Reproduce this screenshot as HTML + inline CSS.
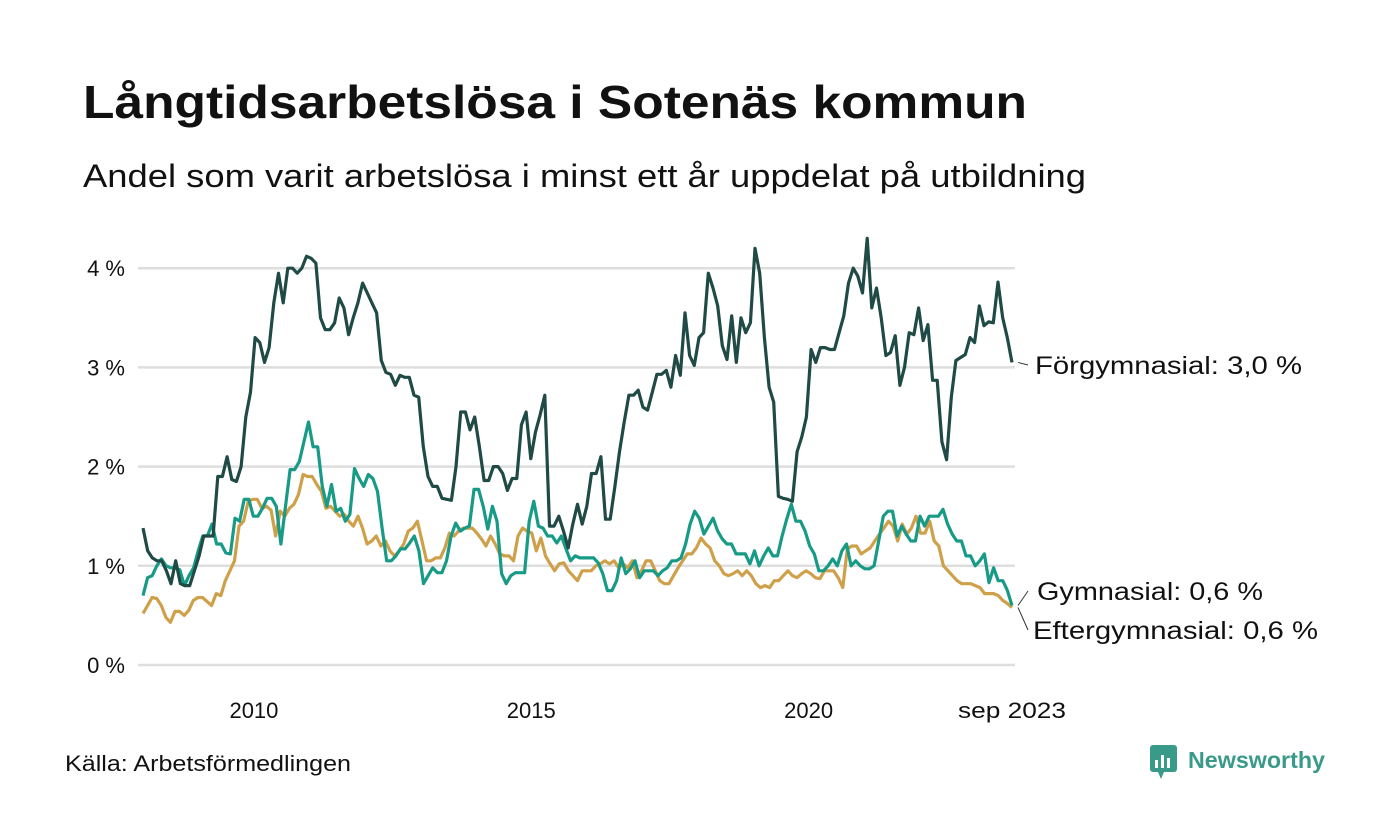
<!DOCTYPE html>
<html><head><meta charset="utf-8">
<style>
html,body{margin:0;padding:0;background:#fff;}
svg{display:block;font-family:"Liberation Sans",sans-serif;}
</style></head>
<body>
<svg width="1400" height="840" viewBox="0 0 1400 840">
<text x="83" y="118" font-size="46" font-weight="bold" fill="#111" textLength="944" lengthAdjust="spacingAndGlyphs">Långtidsarbetslösa i Sotenäs kommun</text>
<text x="83" y="187" font-size="32" fill="#111" textLength="1003" lengthAdjust="spacingAndGlyphs">Andel som varit arbetslösa i minst ett år uppdelat på utbildning</text>
<g id="grid"></g>
<g id="xaxis"></g>
<g id="lines"></g>
<g id="labels"></g>
<text x="65" y="771" font-size="22" fill="#111" textLength="286" lengthAdjust="spacingAndGlyphs">Källa: Arbetsförmedlingen</text>
<g>
<rect x="1150" y="745" width="27" height="27" rx="3" fill="#3a9a8a"/>
<polygon points="1158,772 1164,772 1161,779" fill="#3a9a8a"/>
<rect x="1155" y="760" width="3" height="8" fill="#fff"/><rect x="1161" y="755" width="3" height="13" fill="#fff"/><rect x="1167" y="758" width="3" height="10" fill="#fff"/>
<text x="1188" y="768" font-size="23" font-weight="bold" fill="#3a9a8a" textLength="137" lengthAdjust="spacingAndGlyphs">Newsworthy</text>
</g>
</svg>
<script>
const yTicks=[0,1,2,3,4];
const yTickLabels=["0 %","1 %","2 %","3 %","4 %"];
const xTickYears=[2010,2015,2020,2023.667];
const xTickLabels=["2010","2015","2020","sep 2023"];
const seriesNames=["Förgymnasial","Gymnasial","Eftergymnasial"];
const endLabels=["Förgymnasial: 3,0 %","Gymnasial: 0,6 %","Eftergymnasial: 0,6 %"];
const forgymnasial=[1.38,1.15,1.08,1.05,1.05,0.95,0.82,1.05,0.82,0.8,0.8,0.95,1.1,1.3,1.3,1.3,1.9,1.9,2.1,1.87,1.85,2.0,2.5,2.75,3.3,3.25,3.05,3.2,3.65,3.95,3.65,4.0,4.0,3.95,4.0,4.12,4.1,4.05,3.5,3.38,3.38,3.45,3.7,3.6,3.33,3.5,3.65,3.85,3.75,3.65,3.55,3.07,2.95,2.93,2.82,2.92,2.9,2.9,2.72,2.7,2.2,1.9,1.8,1.8,1.68,1.67,1.66,2.0,2.55,2.55,2.37,2.5,2.2,1.86,1.86,2.0,2.0,1.93,1.76,1.88,1.88,2.42,2.55,2.08,2.35,2.52,2.72,1.4,1.4,1.5,1.35,1.18,1.42,1.62,1.42,1.6,1.93,1.93,2.1,1.47,1.47,1.8,2.15,2.45,2.72,2.72,2.77,2.6,2.57,2.75,2.93,2.93,2.97,2.8,3.12,2.92,3.55,3.12,3.02,3.3,3.35,3.95,3.8,3.62,3.22,3.08,3.52,3.05,3.5,3.35,3.45,4.2,3.95,3.3,2.8,2.65,1.7,1.68,1.67,1.65,2.15,2.3,2.5,3.18,3.05,3.2,3.2,3.18,3.18,3.35,3.52,3.85,4.0,3.92,3.75,4.3,3.6,3.8,3.5,3.12,3.15,3.32,2.82,3.0,3.35,3.33,3.6,3.27,3.43,2.87,2.87,2.25,2.07,2.7,3.07,3.1,3.13,3.3,3.25,3.62,3.42,3.46,3.45,3.86,3.5,3.3,3.05];
const gymnasial=[0.7,0.88,0.9,1.0,1.07,1.0,0.98,0.98,0.96,0.8,0.9,0.98,1.15,1.3,1.3,1.42,1.22,1.22,1.13,1.12,1.48,1.45,1.67,1.67,1.5,1.5,1.58,1.68,1.68,1.6,1.22,1.6,1.97,1.97,2.05,2.25,2.45,2.2,2.2,1.8,1.6,1.82,1.55,1.58,1.45,1.52,1.98,1.88,1.8,1.92,1.88,1.75,1.38,1.05,1.05,1.1,1.17,1.17,1.23,1.3,1.15,0.82,0.9,0.98,0.93,0.93,1.05,1.3,1.43,1.35,1.38,1.4,1.77,1.77,1.6,1.37,1.6,1.45,0.92,0.82,0.9,0.93,0.93,0.93,1.45,1.65,1.4,1.38,1.3,1.3,1.23,1.3,1.17,1.05,1.1,1.08,1.08,1.08,1.08,1.03,0.92,0.75,0.75,0.85,1.08,0.92,0.97,1.05,0.88,0.95,0.95,0.95,0.9,0.95,0.98,1.05,1.05,1.08,1.22,1.42,1.55,1.48,1.32,1.4,1.48,1.35,1.27,1.22,1.22,1.12,1.12,1.12,1.02,1.15,1.0,1.1,1.18,1.1,1.1,1.3,1.47,1.62,1.45,1.45,1.35,1.2,1.12,0.95,0.95,1.0,1.07,1.0,1.15,1.22,1.0,1.05,1.0,0.97,0.97,1.0,1.25,1.5,1.55,1.55,1.3,1.4,1.32,1.25,1.25,1.5,1.4,1.5,1.5,1.5,1.57,1.42,1.32,1.25,1.25,1.1,1.1,1.0,1.05,1.12,0.83,0.98,0.85,0.85,0.75,0.6];
const eftergymnasial=[0.52,0.6,0.68,0.67,0.6,0.48,0.43,0.54,0.54,0.5,0.55,0.65,0.68,0.68,0.64,0.6,0.72,0.7,0.85,0.95,1.05,1.4,1.45,1.65,1.67,1.67,1.58,1.6,1.56,1.3,1.55,1.5,1.58,1.62,1.72,1.92,1.9,1.9,1.82,1.75,1.58,1.6,1.55,1.5,1.52,1.45,1.4,1.5,1.38,1.22,1.25,1.3,1.2,1.25,1.15,1.1,1.15,1.22,1.35,1.38,1.45,1.25,1.05,1.05,1.08,1.08,1.18,1.33,1.3,1.35,1.38,1.38,1.38,1.33,1.27,1.2,1.3,1.22,1.12,1.1,1.1,1.05,1.3,1.38,1.35,1.33,1.15,1.28,1.1,1.02,0.95,1.02,1.03,0.95,0.9,0.85,0.95,0.95,0.95,1.0,1.02,1.05,1.02,1.05,0.98,1.02,0.98,1.05,0.88,0.95,1.05,1.05,0.95,0.85,0.82,0.82,0.9,0.98,1.05,1.12,1.12,1.18,1.28,1.22,1.18,1.05,1.0,0.92,0.9,0.92,0.95,0.9,0.95,0.9,0.82,0.78,0.8,0.78,0.85,0.85,0.9,0.95,0.9,0.88,0.92,0.95,0.92,0.88,0.87,0.95,0.95,0.95,0.88,0.78,1.17,1.2,1.2,1.12,1.15,1.18,1.25,1.32,1.38,1.45,1.4,1.25,1.42,1.32,1.38,1.5,1.33,1.33,1.45,1.25,1.2,1.0,0.95,0.9,0.85,0.82,0.82,0.82,0.8,0.78,0.72,0.72,0.72,0.7,0.65,0.62,0.58];
const colors=["#1f4a45","#179a86","#cfa04a"];

const NS="http://www.w3.org/2000/svg";
const x0=143,x1=1012,tStart=2008,tEnd=2023.667;
function xs(t){return x0+(t-tStart)/(tEnd-tStart)*(x1-x0);}
function ys(v){return 665-v*99.2;}
function mk(tag,attrs,parent){const e=document.createElementNS(NS,tag);for(const k in attrs)e.setAttribute(k,attrs[k]);parent.appendChild(e);return e;}
const grid=document.getElementById('grid');
yTicks.forEach((v,i)=>{
  const l=mk('line',{x1:138,x2:1015,y1:ys(v),y2:ys(v),stroke:'#dedede','stroke-width':2.5},grid);
  
  
  const t=mk('text',{x:125,y:ys(v)+8,'font-size':22,fill:'#111','text-anchor':'end'},grid);
  t.textContent=yTickLabels[i];
  
  
});
const xa=document.getElementById('xaxis');
xTickYears.forEach((yr,i)=>{
  const t=mk('text',{x:xs(yr),y:718,'font-size':22,fill:'#111','text-anchor':'middle'},xa);
  if(i==3){t.setAttribute('textLength',108);t.setAttribute('lengthAdjust','spacingAndGlyphs');}
  t.textContent=xTickLabels[i];
  
  
});
const lines=document.getElementById('lines');
const all=[forgymnasial,gymnasial,eftergymnasial];
[2,1,0].forEach(si=>{
  const d=all[si],n=d.length;
  const pts=d.map((v,i)=>xs(tStart+i*(tEnd-tStart)/(n-1)).toFixed(1)+','+ys(v).toFixed(1)).join(' ');
  const p=mk('polyline',{points:pts,fill:'none',stroke:colors[si],'stroke-width':3.2,'stroke-linejoin':'round'},lines);
  
  
});
const lab=document.getElementById('labels');
const labY=[374,600,639];
const labX=[1035,1037,1033];
const labW=[267,226,285];
[0,1,2].forEach(si=>{
  const d=all[si];const ly=ys(d[d.length-1]);
  mk('line',{x1:1018,y1:ly,x2:1028,y2:labY[si]-9,stroke:'#333','stroke-width':1},lab);
  const t=mk('text',{x:labX[si],y:labY[si],'font-size':25,fill:'#111',textLength:labW[si],lengthAdjust:'spacingAndGlyphs'},lab);
  t.textContent=endLabels[si];
  
  
});
</script>
</body></html>
